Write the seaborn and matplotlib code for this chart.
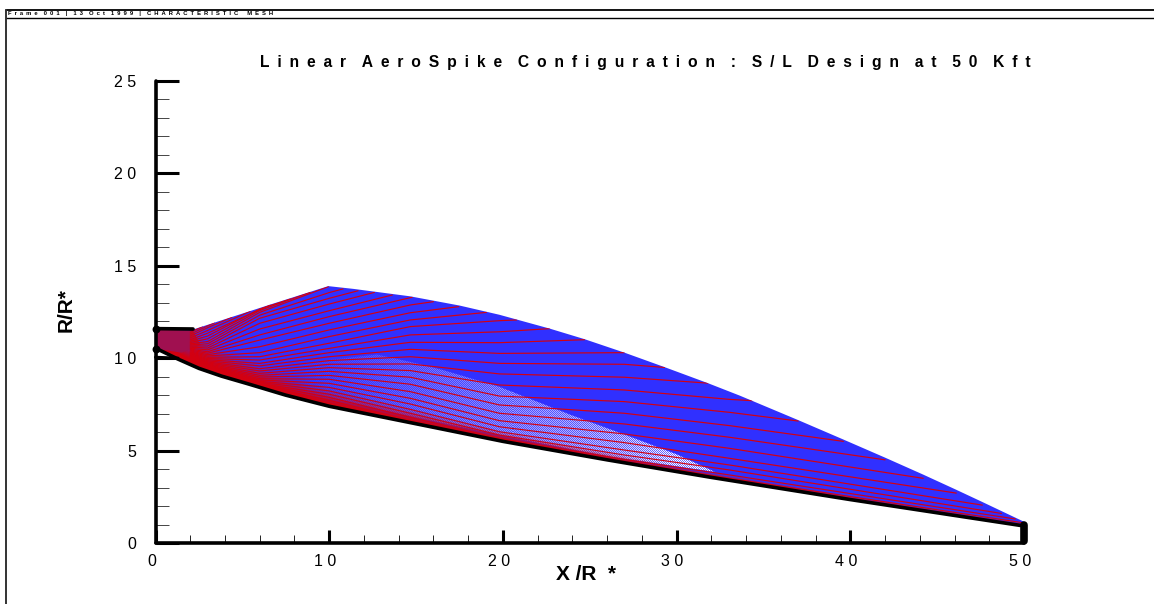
import numpy as np
import pandas as pd
import matplotlib
matplotlib.use('Agg')
import matplotlib.pyplot as plt
from matplotlib.lines import Line2D
from matplotlib.patches import Polygon
from matplotlib.ticker import FixedLocator
from matplotlib.transforms import ScaledTranslation
import seaborn as sns

nan = np.nan

# wall and outer boundary
spike_x = [0.1, 1.3, 2.5, 3.8, 5.3, 7.5, 10, 15.8, 20, 26, 32, 40, 49.8]
spike_y = [10.5, 9.95, 9.45, 9.03, 8.62, 8.0, 7.4, 6.3, 5.5, 4.5, 3.55, 2.35, 0.95]
edge_x = [2.16, 6.6, 9.95, 11.4, 14.65, 17.5, 19.8, 22.7, 24.7, 27, 29.3, 31.8, 33.65, 37, 39.6, 42, 44.2, 46.1, 47.6, 50]
edge_y = [11.55, 12.9, 13.9, 13.75, 13.35, 12.85, 12.35, 11.6, 11.03, 10.3, 9.52, 8.65, 7.97, 6.65, 5.6, 4.62, 3.7, 2.88, 2.22, 1.15]
lip_x = [0, 2.16]
lip_y = [11.6, 11.58]
lower_lip_x = [0, 1.3]
lower_lip_y = [10.05, 10.0]
base_x = [50, 50]
base_y = [0.1, 1.0]

# red family, y at fixed stations, then where each line meets the edge
stations = [2, 3, 6, 10, 14.67, 19.8, 27, 33.06]
y_at_2 = [11.4, 11.3, 11.2, 11.1, 11.0, 10.92, 10.85, 10.78, 10.72, 10.66, 10.6, 10.54, 10.49, 10.44, 10.39, 10.34,
          10.3, 10.26, 10.22, 10.18, 10.14, 10.10, 10.06, 10.02, 9.98, 9.94, 9.9, 9.86, 9.82, 9.78, 9.74, 9.7]
y_at_3 = [nan, 11.75, 11.65, 11.5, 11.35, 11.2, 11.05, 10.9, 10.78, 10.66, 10.55, 10.45, 10.35, 10.27, 10.19, 10.12,
          10.05, 9.98, 9.92, 9.86, 9.8, 9.75, 9.7, 9.65, 9.6, 9.56, 9.52, 9.48, 9.44, 9.4, 9.37, 9.33]
y_at_6 = [nan, nan, nan, nan, nan, 12.66, 12.58, 12.48, 12.33, 12.16, 11.89, 11.58, 11.26, 10.98, 10.62, 10.3,
          10.08, 9.9, 9.72, 9.58, 9.43, 9.31, 9.18, 9.07, 8.98, 8.89, 8.82, 8.75, 8.7, 8.64, 8.6, 8.55]
y_at_10 = [nan, nan, nan, nan, nan, nan, nan, nan, 13.55, 13.24, 12.93, 12.57, 12.25, 11.89, 11.53, 11.17,
           10.81, 10.53, 10.3, 10.08, 9.87, 9.67, 9.49, 9.29, 9.07, 8.86, 8.64, 8.42, 8.23, 8.05, 7.88, 7.72]
y_at_15 = [nan, nan, nan, nan, nan, nan, nan, nan, nan, nan, nan, nan, nan, 12.88, 12.46, 12.07,
           11.71, 11.26, 10.86, 10.48, 10.08, 9.69, 9.33, 8.97, 8.59, 8.19, 7.83, 7.52, 7.23, 7.02, 6.8, 6.62]
y_at_20 = [nan, nan, nan, nan, nan, nan, nan, nan, nan, nan, nan, nan, nan, nan, nan, nan,
           12.03, 11.43, 10.84, 10.26, 9.72, 9.15, 8.55, 7.95, 7.47, 7.02, 6.62, 6.29, 6.02, 5.84, 5.66, 5.58]
y_at_27 = [nan, nan, nan, nan, nan, nan, nan, nan, nan, nan, nan, nan, nan, nan, nan, nan,
           nan, nan, nan, nan, 9.67, 8.97, 8.28, 7.65, 7.02, 6.44, 5.9, 5.43, 5.03, 4.76, 4.52, 4.42]
y_at_33 = [nan, nan, nan, nan, nan, nan, nan, nan, nan, nan, nan, nan, nan, nan, nan, nan,
           nan, nan, nan, nan, nan, nan, 7.77, 7.07, 6.35, 5.72, 5.12, 4.58, 4.22, 3.95, 3.68, 3.5]
end_x = [2.7, 3.4, 4.4, 5.45, 6.6, 7.75, 8.9, 9.95, 10.8, 11.66, 12.6, 13.63, 14.78, 16.0, 17.46, 19.05,
         20.8, 22.7, 24.7, 27, 29.3, 31.8, 34.4, 37, 39.6, 42, 44.2, 46.1, 47.6, 48.7, 49.5, 49.9]
end_y = [11.71, 11.92, 12.22, 12.54, 12.88, 13.2, 13.57, 13.87, 13.75, 13.65, 13.56, 13.42, 13.3, 13.06, 12.79, 12.48,
         12.07, 11.6, 11, 10.3, 9.5, 8.65, 7.7, 6.6, 5.5, 4.5, 3.5, 2.7, 2.05, 1.6, 1.3, 1.1]

# shading of the dense parts of the mesh
throat_x = [0.1, 2.16, 2.6, 1.5, 0.1]
throat_y = [11.55, 11.5, 10.7, 10.3, 10.5]
band_x = [0, 3, 6, 10, 15, 20, 26, 32, 50]
band_h = [2.2, 1.6, 1.15, 0.95, 0.7, 0.5, 0.35, 0.22, 0.1]
wedge_x = [7, 12.75, 14.67, 16.55, 19.8, 24, 27.2, 30, 32.2, 26, 20, 15, 8]
wedge_y = [9.6, 10.2, 9.8, 9.36, 8.45, 6.9, 5.8, 4.8, 3.85, 4.7, 5.8, 6.8, 8.2]
fade_x = [8, 13, 20, 27, 32]
fade_a = [0.0, 0.14, 0.32, 0.5, 0.75]

xticks = [0, 10, 20, 30, 40, 50]
xlabels = ['0', '1 0', '2 0', '3 0', '4 0', '5 0']
yticks = [0, 5, 10, 15, 20, 25]
ylabels = ['0', '5', '1 0', '1 5', '2 0', '2 5']
xminor = [2, 4, 6, 8, 12, 14, 16, 18, 22, 24, 26, 28, 32, 34, 36, 38, 42, 44, 46, 48]
yminor = [i for i in range(1, 25) if i % 5 != 0]

title = 'L i n e a r  A e r o S p i k e  C o n f i g u r a t i o n  :  S / L  D e s i g n  a t  5 0  K f t'
frame_text = 'F r a m e  0 0 1  |  1 3  O c t  1 9 9 9  |  C H A R A C T E R I S T I C   M E S H'

sns.set_theme(style='white')
plt.rcParams['font.family'] = ['Liberation Sans', 'DejaVu Sans']

W, H = 1154, 604
fig = plt.figure(figsize=(W / 100, H / 100), dpi=100)
ax = fig.add_axes([155.5 / W, 1 - 543 / H, (1024 - 155.5) / W, (543 - 81) / H])

BLUE = '#3030ff'
RED = '#d40010'

# blue family reads as a solid fill
outline = list(zip(edge_x + spike_x[::-1] + [0.1, 2.16], edge_y + spike_y[::-1] + [11.55, 11.55]))
mesh = Polygon(outline, closed=True, facecolor=BLUE, lw=0, zorder=1)
ax.add_patch(mesh)

# loose part of the blue family, white showing through a fine weave
nx, ny = 434, 148
gx = np.linspace(8, 33, nx)
gy = np.linspace(3, 11, ny)
ii, jj = np.meshgrid(np.arange(nx), np.arange(ny))
weave = 0.45 + 1.1 * ((ii + jj) % 2)
rgba = np.ones((ny, nx, 4))
rgba[..., 3] = np.clip(np.interp(gx, fade_x, fade_a)[None, :] * weave, 0, 1)
wedge = Polygon(list(zip(wedge_x, wedge_y)), closed=True, transform=ax.transData, fc='none', lw=0)
ax.add_patch(wedge)
im = ax.imshow(rgba, extent=[8, 33, 3, 11], origin='lower', aspect='auto', interpolation='nearest', zorder=2)
im.set_clip_path(wedge)

# red family packs solid towards the wall
nx, ny = 870, 270
gx = np.linspace(0, 50, nx)
gy = np.linspace(0, 13, ny)
wall = np.interp(gx, spike_x, spike_y)
height = np.interp(gx, band_x, band_h)
above = (gy[:, None] - wall[None, :]) / height[None, :]
rgba = np.zeros((ny, nx, 4))
rgba[..., :3] = matplotlib.colors.to_rgb(RED)
rgba[..., 3] = np.clip(1.15 - above, 0, 1) ** 1.5
im = ax.imshow(rgba, extent=[0, 50, 0, 13], origin='lower', aspect='auto', interpolation='bilinear', zorder=3)
im.set_clip_path(mesh)
ax.fill(throat_x, throat_y, facecolor='#a01050', lw=0, zorder=3)

# red family
columns = [y_at_2, y_at_3, y_at_6, y_at_10, y_at_15, y_at_20, y_at_27, y_at_33]
rows = []
for i in range(len(end_x)):
    for sx, col in zip(stations, columns):
        if not np.isnan(col[i]):
            rows.append((i, sx, col[i]))
    rows.append((i, end_x[i], end_y[i]))
red = pd.DataFrame(rows, columns=['line', 'x', 'y'])
n_before = len(ax.lines)
sns.lineplot(data=red, x='x', y='y', units='line', estimator=None, sort=False,
             color=RED, linewidth=0.85, ax=ax, zorder=4, legend=False)
for ln in ax.lines[n_before:]:
    ln.set_clip_path(mesh)

# walls
for xs, ys, lw in [(spike_x, spike_y, 2.6), (lip_x, lip_y, 2.6), (lower_lip_x, lower_lip_y, 2.2), (base_x, base_y, 5.5)]:
    sns.lineplot(x=xs, y=ys, color='black', linewidth=lw, sort=False, estimator=None, ax=ax, zorder=5,
                 solid_capstyle='round', clip_on=False)
sns.scatterplot(x=[0, 0], y=[11.6, 10.5], color='black', s=32, linewidth=0, ax=ax, zorder=5, clip_on=False)

ax.set_xlim(0, 50)
ax.set_ylim(0, 25)
ax.set_xlabel('')
ax.set_ylabel('')
sns.despine(ax=ax)
for s in ['left', 'bottom']:
    ax.spines[s].set_linewidth(2.6)
    ax.spines[s].set_color('black')
    ax.spines[s].set_zorder(6)
    ax.spines[s].set_capstyle('round')

ax.set_xticks(xticks)
ax.set_xticklabels(xlabels)
ax.set_yticks(yticks)
ax.set_yticklabels(ylabels)
ax.xaxis.set_minor_locator(FixedLocator(xminor))
ax.yaxis.set_minor_locator(FixedLocator(yminor))
ax.tick_params(axis='x', which='major', direction='in', length=9.4, width=2.2, pad=8, labelsize=11.5, bottom=True, colors='black')
ax.tick_params(axis='y', which='major', direction='in', length=16.6, width=2.2, pad=14, labelsize=11.5, left=True, colors='black')
ax.tick_params(axis='x', which='minor', direction='in', length=5.8, width=0.7, bottom=True, color='#222222')
ax.tick_params(axis='y', which='minor', direction='in', length=9.4, width=0.7, left=True, color='#444444')
shift = ScaledTranslation(-3 / 72, 0, fig.dpi_scale_trans)
for lab in ax.get_xticklabels():
    lab.set_transform(lab.get_transform() + shift)
for tick in ax.xaxis.get_major_ticks() + ax.yaxis.get_major_ticks():
    tick.tick1line.set_solid_capstyle('round')
    tick.tick1line.set_zorder(6)

fig.text(260 / W, 1 - 62 / H, title.replace(' ', '\u2002'), fontsize=11.25, fontweight='bold', va='center', ha='left', color='black')
fig.text(8 / W, 1 - 14 / H, frame_text.replace(' ', '\u2002'), fontsize=4.2, fontweight='bold', va='center', ha='left', color='black')
fig.text(586 / W, 1 - 575 / H, 'X /R  *', fontsize=15, fontweight='bold', va='center', ha='center', color='black')
fig.text(66 / W, 1 - 310 / H, 'R/R*', fontsize=15, fontweight='bold', va='center', ha='center', rotation=90, color='black')

# frame lines round the plot
fig.add_artist(Line2D([5.5 / W, W / W], [1 - 10 / H, 1 - 10 / H], color='black', lw=1.3))
fig.add_artist(Line2D([5.5 / W, W / W], [1 - 18 / H, 1 - 18 / H], color='black', lw=1.0))
fig.add_artist(Line2D([5.5 / W, 5.5 / W], [1 - 10 / H, 0], color='#333333', lw=1.4))

fig.savefig('out.png', dpi=100)
